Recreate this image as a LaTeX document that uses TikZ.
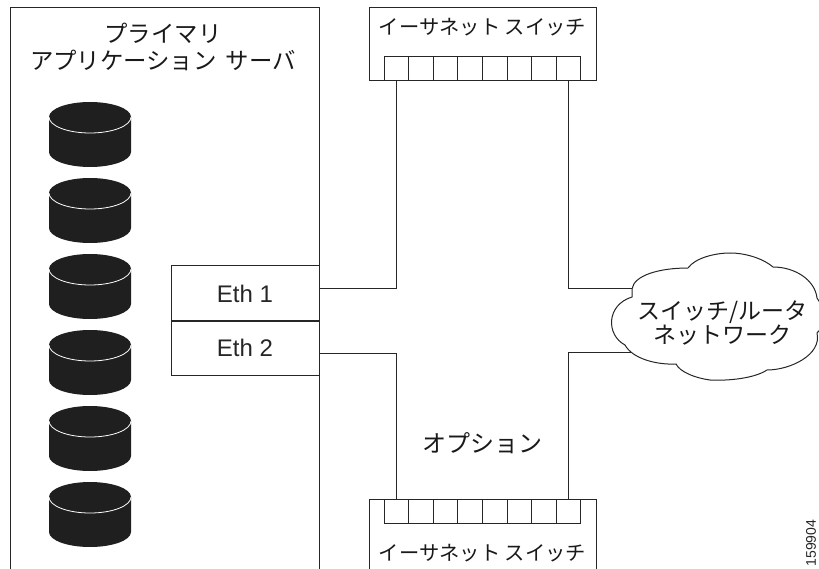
\documentclass[tikz,border=0pt]{standalone}
\usepackage{fontspec}
\setmainfont{Liberation Sans}
\newfontfamily\cjk{Noto Sans CJK JP}
\tikzset{
  line/.style={draw=black!85,line width=1pt},
  lbl/.style={inner sep=0pt,align=center,text=black!90},
  eth/.style={line,minimum width=148pt,minimum height=55pt,inner sep=0pt,font=\fontsize{24}{28}\selectfont,text=black!85},
  portbox/.style={line,minimum width=24.6pt,minimum height=24pt,inner sep=0pt}
}
\newcommand{\disk}[1]{%
  \fill[black!88] (49,#1+15) arc[start angle=180,end angle=360,x radius=41,y radius=15] -- (131,#1+50) arc[start angle=0,end angle=180,x radius=41,y radius=15] -- cycle;
  \draw[white,line width=0.8pt] (49,#1+15) arc[start angle=180,end angle=0,x radius=41,y radius=16];
}
\begin{document}
\begin{tikzpicture}[x=1pt,y=-1pt]
\useasboundingbox (0,0) rectangle (819,569);
% server
\draw[line] (10,569) -- (10,8) -- (319,8) -- (319,569);
\node[lbl,font=\fontsize{23.4}{27}\selectfont\cjk] (srv) at (163,46.5) {プライマリ\\アプリケーション\hspace{4pt} サーバ};
\foreach \y in {102,178,254,330,406,482} {\disk{\y}}
% eth boxes
\node[eth] (e1) at (245,293.5) {Eth 1};
\node[eth] (e2) at (245,348) {Eth 2};
% top switch
\draw[line] (369,81) -- (369,8) -- (596,8) -- (596,81) -- cycle;
\node[lbl,font=\fontsize{20.3}{24}\selectfont\cjk] (tl) at (482.5,27) {イーサネット スイッチ};
\foreach \i in {0,...,7} {\node[portbox] (t\i) at (396.3+\i*24.6,69) {};}
% bottom switch
\draw[line] (369,569) -- (369,499) -- (596,499) -- (596,569);
\node[lbl,font=\fontsize{20.3}{24}\selectfont\cjk] (bl) at (482.5,553) {イーサネット スイッチ};
\foreach \i in {0,...,7} {\node[portbox,fill=white] (b\i) at (396.3+\i*24.6,511) {};}
% connectors
\coordinate (p1) at (319,289);
\coordinate (p2) at (319,353);
\coordinate (c1) at (640,289);
\coordinate (c2) at (640,352);
\draw[line] (t0.south) |- (p1);
\draw[line] (t7.south) |- (c1);
\draw[line] (b0.north) |- (p2);
\draw[line] (b7.north) |- (c2);
% cloud
\draw[line,fill=white] (632,289)
  .. controls (634,275) and (660,268) .. (688,268)
  .. controls (695,258) and (715,253) .. (730,253)
  .. controls (748,253) and (765,260) .. (773,267)
  .. controls (795,267) and (815,280) .. (817,298)
  .. controls (826,310) and (826,325) .. (817,333)
  .. controls (822,355) and (790,370) .. (767,370)
  .. controls (755,378) and (730,381) .. (710,380)
  .. controls (695,378) and (680,372) .. (676,364)
  .. controls (655,365) and (632,358) .. (625,345)
  .. controls (606,335) and (606,305) .. (632,297) -- cycle;
\node[lbl,font=\fontsize{23}{24}\selectfont\cjk] (cl) at (722,323.5) {スイッチ/ルータ\\ネットワーク};
\node[lbl,font=\fontsize{24}{27}\selectfont\cjk] (op) at (482,443) {オプション};
\node[rotate=90,inner sep=0pt,font=\fontsize{14}{16}\selectfont,text=black!85] (id) at (811,543) {159904};
\end{tikzpicture}
\end{document}
